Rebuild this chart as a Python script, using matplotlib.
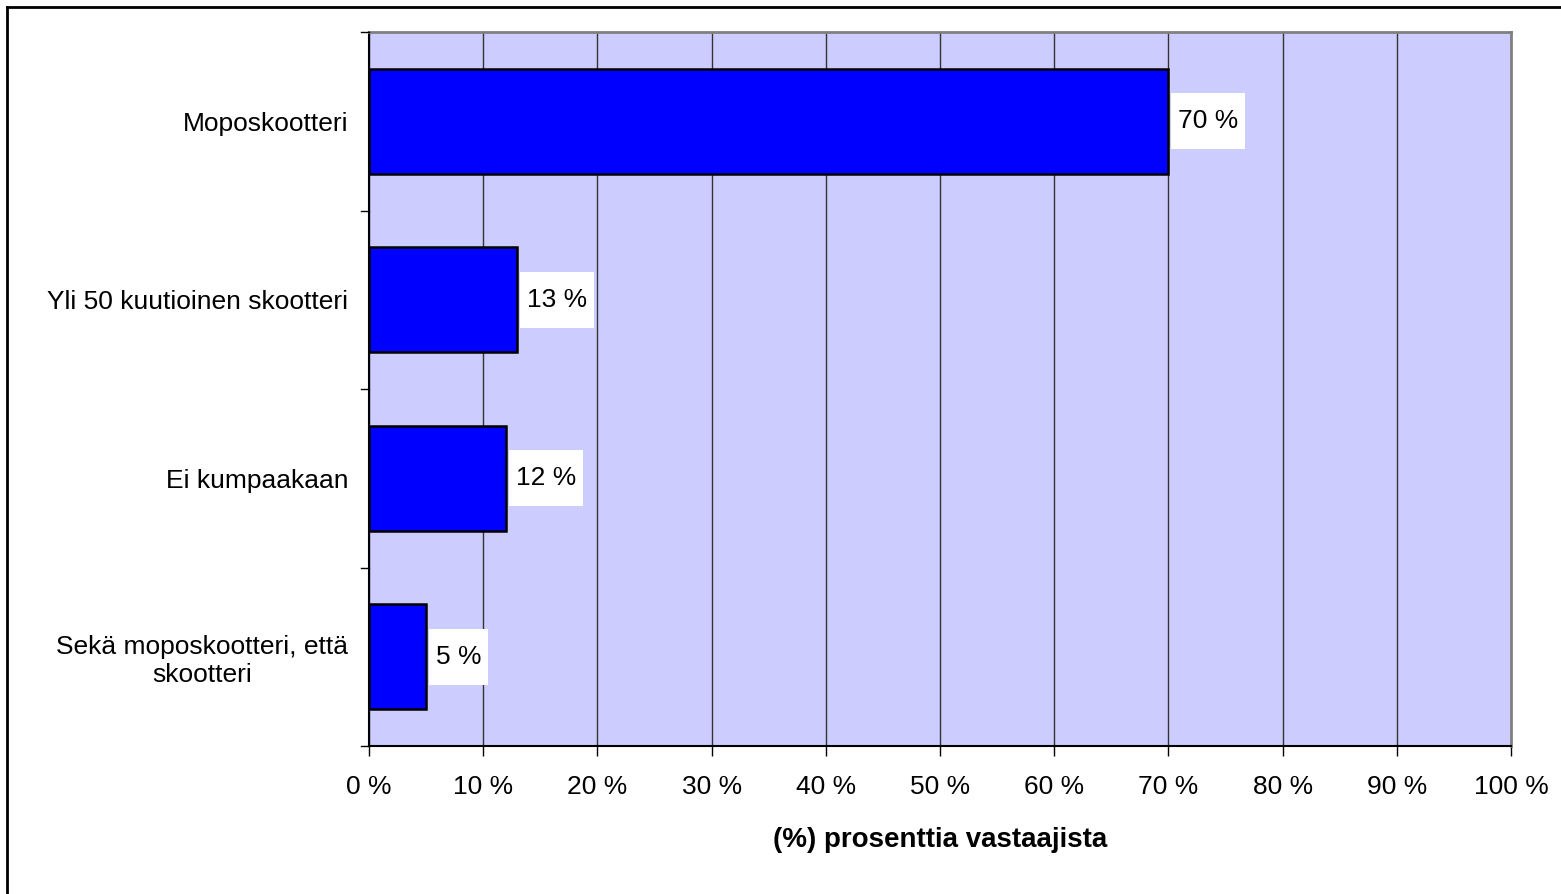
import matplotlib.pyplot as plt
from matplotlib.lines import Line2D
from matplotlib.path import Path

# data
categories = ["Moposkootteri", "Yli 50 kuutioinen skootteri", "Ei kumpaakaan",
              "Sekä moposkootteri, että\nskootteri"]
values = [70, 13, 12, 5]
value_labels = ["70 %", "13 %", "12 %", "5 %"]
xticks = list(range(0, 101, 10))
xtick_labels = [f"{t} %" for t in xticks]

plt.rcParams['font.family'] = ['Liberation Sans', 'DejaVu Sans']


# white label box, wider padding vertically than horizontally (pixels)
def label_box(x0, y0, width, height, mutation_size):
    px, py = 7, 16
    x1, y1 = x0 - px, y0 - py
    x2, y2 = x0 + width + px, y0 + height + py
    return Path([(x1, y1), (x2, y1), (x2, y2), (x1, y2), (x1, y1)], closed=True)


fig = plt.figure(figsize=(15.61, 8.94), dpi=100)
ax = fig.add_axes([369 / 1561, 1 - 746 / 894, (1511 - 369) / 1561, (746 - 32) / 894])
ax.set_facecolor('#CCCCFF')

y = list(range(len(categories)))
ax.barh(y, values, height=0.59, color='#0000FF', edgecolor='black', linewidth=1.8, zorder=3)

for yi, v, lab in zip(y, values, value_labels):
    ax.text(v + 0.85, yi, lab, va='center', ha='left', fontsize=19, zorder=4,
            bbox=dict(boxstyle=label_box, facecolor='white', edgecolor='none'))

ax.set_xlim(0, 100)
ax.set_ylim(len(categories) - 0.5, -0.5)
ax.set_xticks(xticks)
ax.set_xticklabels(xtick_labels, fontsize=19)
ax.set_yticks(y)
ax.set_yticklabels(categories, fontsize=19, ha='right', multialignment='center')
ax.tick_params(axis='y', length=0, pad=15)
ax.tick_params(axis='x', length=7, width=1, pad=14)

# category boundary ticks on the y axis
for b in [i - 0.5 for i in range(len(categories) + 1)]:
    ax.plot([-0.7, 0], [b, b], color='black', lw=1, clip_on=False, zorder=5)

ax.grid(axis='x', color='#333333', linewidth=1, zorder=1)
ax.set_axisbelow(True)

for side in ['top', 'right']:
    ax.spines[side].set_color('#808080')
    ax.spines[side].set_linewidth(2)
for side in ['left', 'bottom']:
    ax.spines[side].set_color('black')
    ax.spines[side].set_linewidth(1.5)

ax.set_xlabel("(%) prosenttia vastaajista", fontsize=20, fontweight='bold', labelpad=20)

# outer chart border
fig.add_artist(Line2D([7 / 1561, 1.0], [1 - 7 / 894, 1 - 7 / 894], color='black', lw=2,
                      transform=fig.transFigure))
fig.add_artist(Line2D([7 / 1561, 7 / 1561], [0, 1 - 7 / 894], color='black', lw=2,
                      transform=fig.transFigure))

fig.savefig("out.png", dpi=100)
